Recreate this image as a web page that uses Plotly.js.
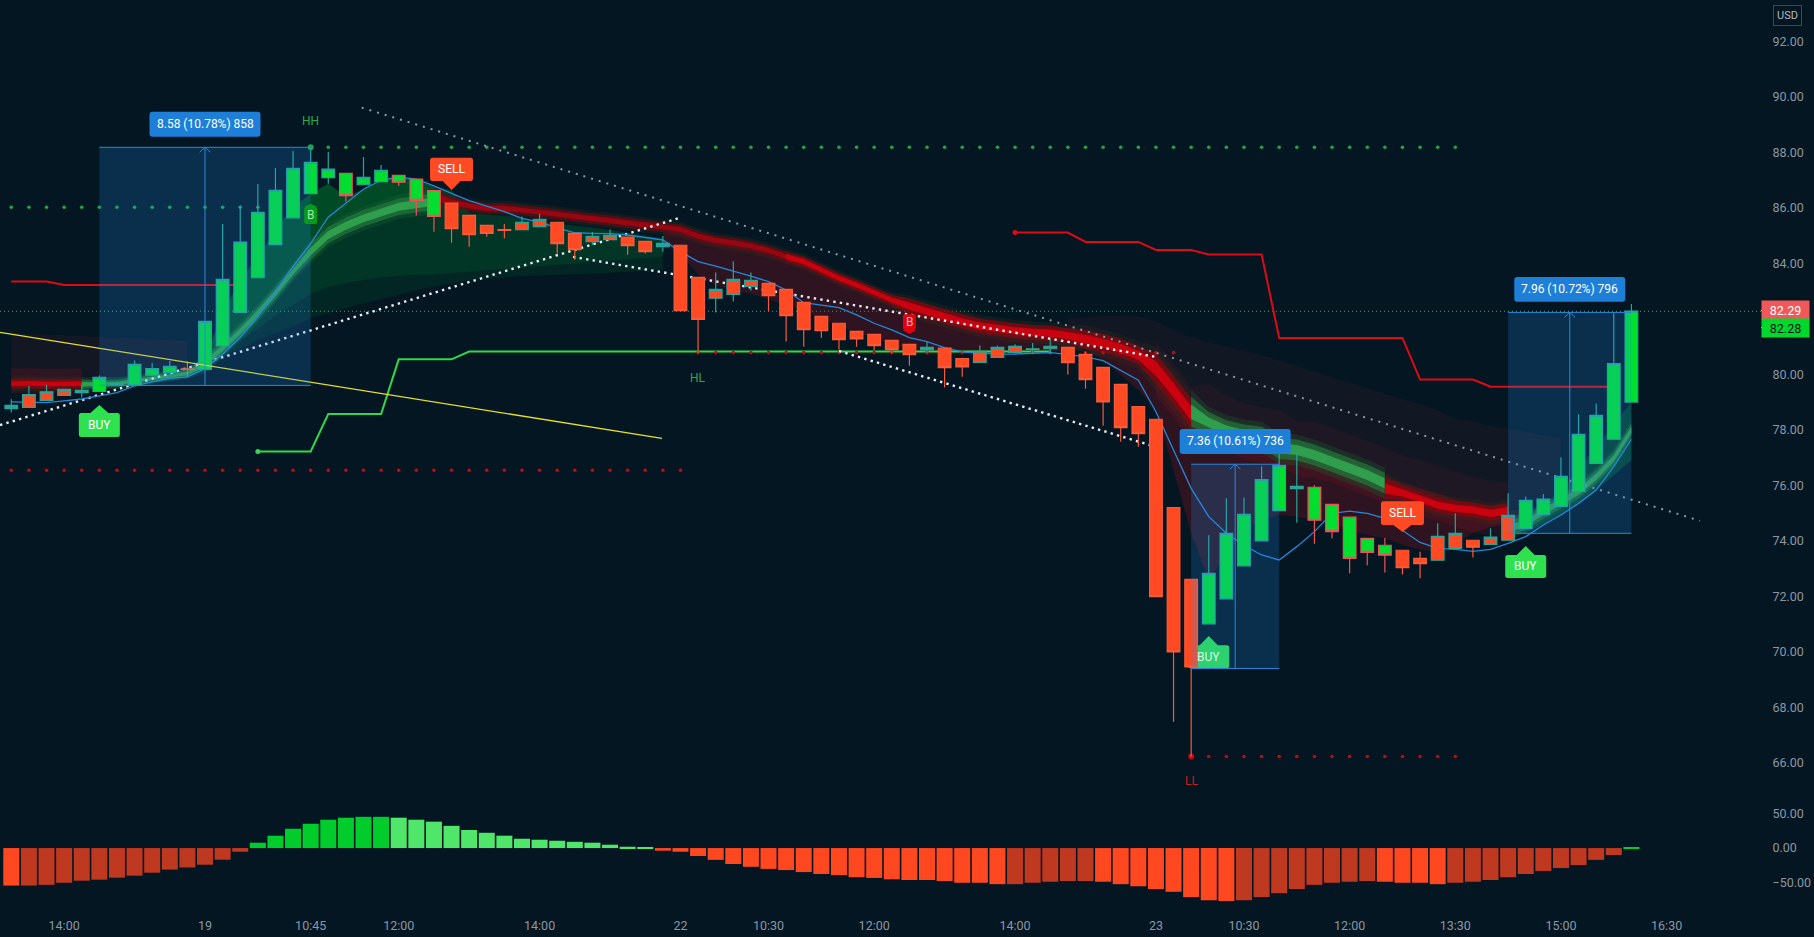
<!DOCTYPE html>
<html><head><meta charset="utf-8">
<script src="https://cdn.plot.ly/plotly-3.0.1.min.js"></script>
<style>html,body{margin:0;padding:0;background:#031622;overflow:hidden}</style>
</head><body><div id="chart" style="width:1814px;height:937px"></div>
<script>
// ---------- candles ----------
const open  = [78.76,78.81,79.06,79.24,79.34,79.38,79.62,79.61,79.97,80.07,80.20,80.18,81.03,82.23,83.48,84.67,85.64,86.51,87.09,87.24,86.83,86.94,87.17,87.03,86.62,86.17,85.73,85.37,85.21,85.21,85.32,85.48,85.08,84.78,84.85,84.94,84.79,84.60,84.65,83.49,82.74,82.88,83.17,83.28,83.06,82.59,82.09,81.84,81.55,81.44,81.22,81.08,80.89,80.94,80.57,80.43,80.61,80.79,80.90,80.92,80.97,80.72,80.25,79.64,78.84,78.38,75.20,72.61,71.01,71.91,73.10,74.00,75.09,75.88,75.93,75.31,74.85,74.09,73.84,73.66,73.37,73.30,73.73,74.02,73.87,74.02,74.44,74.94,75.24,75.78,76.79,77.66,79.00];
const high  = [79.10,79.58,79.62,79.46,79.62,79.96,79.75,80.50,80.41,80.48,80.47,81.91,85.42,86.08,86.86,87.43,88.05,88.18,88.01,87.24,87.83,87.54,87.17,87.03,86.62,86.17,85.73,85.37,85.42,85.69,85.78,85.48,85.08,85.13,85.22,84.94,84.79,84.98,84.65,83.49,83.67,84.07,83.67,83.28,83.06,82.59,82.09,81.84,81.55,81.44,81.22,81.08,81.16,80.94,80.60,81.04,81.04,81.08,81.13,81.26,80.97,80.80,80.25,79.64,78.84,78.38,75.20,72.61,74.20,75.53,75.56,76.68,77.15,77.19,76.00,75.31,74.85,74.09,74.10,73.66,73.61,74.63,74.99,74.02,74.45,75.71,75.60,75.69,77.01,78.56,78.95,82.23,82.53];
const low   = [78.62,78.81,79.06,79.24,79.16,79.38,79.62,79.61,79.97,80.07,79.93,80.18,81.03,82.23,83.48,84.67,85.64,86.51,86.87,86.22,86.83,86.94,86.79,85.72,85.14,84.74,84.60,84.96,84.89,85.21,85.32,84.35,84.13,84.67,84.85,84.31,84.35,84.42,82.29,80.76,82.23,82.62,83.01,82.28,81.18,80.99,81.32,80.89,80.99,80.88,80.76,80.31,80.76,79.52,79.91,80.43,80.61,80.79,80.75,80.75,79.99,79.48,78.15,77.57,77.39,71.99,67.48,66.22,71.01,71.91,73.10,74.00,75.09,74.65,73.89,74.08,72.83,73.12,72.86,72.79,72.65,73.30,73.73,73.40,73.87,74.02,74.44,74.94,75.24,75.78,76.79,77.66,79.00];
const close = [78.88,79.27,79.37,79.46,79.42,79.89,79.66,80.36,80.21,80.29,80.18,81.91,83.42,84.76,85.84,86.63,87.42,87.64,87.39,86.44,87.10,87.35,86.92,86.27,85.69,85.25,85.03,85.08,85.19,85.48,85.58,84.71,84.49,84.97,85.01,84.64,84.42,84.72,82.29,81.98,83.06,83.42,83.39,82.83,82.11,81.61,81.57,81.25,81.28,81.03,80.89,80.71,80.97,80.24,80.27,80.83,80.97,81.01,80.92,81.01,80.42,79.81,79.01,78.08,77.86,71.99,70.00,69.46,72.83,74.27,74.95,76.21,76.72,75.96,74.74,74.33,73.37,73.58,73.48,73.03,73.18,74.16,74.27,73.77,74.13,74.92,75.46,75.50,76.32,77.84,78.52,80.39,82.28];
const bodyState = "rrrrr" + "ggggg" + "r" + "gggggggggggggg" + "r".repeat(43) + "g".repeat(11) + "rrrrrrr" + "ggggggg";

// ---------- ribbon spines ----------
const ribbonRedA   = [79.66,79.67,79.65,79.65,79.66];
const ribbonGreenA = [79.64,79.65,79.67,79.76,79.85,79.94,80.03,80.40,80.94,81.54,82.20,82.92,83.70,84.42,85.02,85.35,85.62,85.83,86.04,86.14,86.22];
const ribbonRedB   = [86.40,86.22,86.07,85.98,85.98,85.92,85.84,85.77,85.68,85.61,85.54,85.46,85.38,85.32,85.22,84.98,84.82,84.74,84.62,84.46,84.24,84.06,83.76,83.46,83.22,82.95,82.68,82.46,82.26,82.08,81.90,81.74,81.66,81.57,81.51,81.48,81.39,81.26,81.12,80.94,80.69,80.21,79.43,78.59];
const ribbonGreenB = [78.65,78.26,77.97,77.81,77.73,77.33,77.27,77.09,76.85,76.61,76.37,76.07];
const ribbonRedC   = [75.89,75.73,75.50,75.29,75.17,75.11,74.99,75.09];
const ribbonGreenC = [74.45,74.63,75.05,75.41,75.77,76.31,76.97,77.99];
const ribbonHalf   = [.13,.13,.13,.13,.13,.1,.1,.1,.1,.1,.1,.18,.18,.18,.18,.18,.18,.22,.22,.22,.22,.22,.22,.22,.22,.14,.14,.14,.14,.14,.14,.14,.14,.14,.14,.14,.14,.14,.14,.14,.14,.14,.14,.14,.14,.14,.14,.14,.14,.14,.14,.2,.2,.2,.2,.2,.2,.2,.2,.2,.2,.25,.25,.25,.25,.4,.4,.4,.28,.28,.28,.28,.28,.28,.28,.28,.28,.28,.28,.2,.2,.2,.2,.2,.2,.2,.18,.18,.18,.18,.18,.18,.18];

// ---------- ribbon clouds ----------
const greenTopA  = [79.9,79.9,79.95,80.05,80.1,80.15,80.6,82.2,83.4,84.24,85.2,86.04,86.51,86.88,86.4,86.67,87.0,87.1,87.0,86.76,86.64,85.8,85.74,85.7,85.66,85.5,85.44,85.35,85.3,85.2,85.1,85.0,84.9];
const greenLowA  = [79.55,79.55,79.6,79.72,79.82,79.88,80.15,80.63,80.94,81.24,81.48,81.72,82.02,82.2,82.38,82.56,82.71,82.86,83.04,83.16,83.28,83.4,83.45,83.5,83.54,83.56,83.58,83.6,83.63,83.66,83.69,83.72,83.76];
const greenInnerA= [79.6,79.6,79.65,79.75,79.85,79.92,80.2,80.75,81.2,81.65,82.1,82.5,82.9,83.15,83.3,83.4,83.5,83.55,83.6,83.6,83.65,83.7,83.75,83.8,83.85,83.9,83.95,84,84.05,84.1,84.15,84.2,84.24];
const greenTopC  = [74.85,75.0,75.3,75.8,76.6,77.4,78.2,79.0];
const greenLowC  = [74.2,74.3,74.6,74.95,75.35,75.85,76.35,76.9];
const redLowB    = [84.7,84.3,83.6,83.2,83.0,82.9,82.7,82.5,82.3,82.0,81.75,81.5,81.3,81.05,80.85,80.7,80.7,80.72,80.75,80.78,80.8,80.8,80.8,80.85,80.9,80.5,79.97,79.43,78.7,76.55,74.27,72.6,73.5,74.39,74.75,74.93,74.87,74.75,74.63,74.39,74.21,74.09,73.85,73.67,73.61,73.9,74.27,74.5,74.63,74.75];
const redTopB    = [82.0,82.05,82.1,82.1,82.08,81.9,81.6,81.35,81.15,81.0,80.85,80.7,80.5,80.3,80.1,79.9,79.7,79.5,79.3,79.1,78.95,78.7,78.4,78.3,78.15,78.05,77.95,77.8,77.7];
const redTopA    = [81.5,81.47,81.44,81.41,81.38,81.35,81.32,81.29,81.26,81.23,81.2];

// ---------- lines ----------
const emaLine = [79.01,78.99,78.98,79.04,79.11,79.22,79.34,79.58,79.73,79.85,79.91,80.21,80.72,81.33,82.08,82.98,83.88,84.72,85.66,86.16,86.67,87.0,87.10,87.03,86.79,86.52,86.26,86.06,85.86,85.62,85.48,85.28,85.10,85.08,85.07,85.02,84.94,84.84,84.42,84.06,83.90,83.73,83.54,83.34,83.04,82.58,82.49,82.40,82.14,81.84,81.60,81.32,81.18,80.96,80.81,80.78,80.73,80.73,80.75,80.78,80.72,80.63,80.49,80.15,79.79,78.65,77.27,75.89,74.87,74.27,73.84,73.49,73.31,73.79,74.33,74.99,75.07,74.99,74.81,74.39,73.94,73.73,73.69,73.62,73.69,73.91,74.15,74.57,74.93,75.35,75.83,76.67,77.66];
const redStepA   = [83.34,83.34,83.34,83.22,83.22,83.22,83.22,83.22,83.22,83.22,83.22,83.22,83.22,83.22];
const redStepB   = [85.11,85.11,85.11,85.11,84.77,84.77,84.77,84.77,84.48,84.48,84.48,84.32,84.32,84.32,84.32,81.31,81.31,81.31,81.31,81.31,81.31,81.31,81.31,79.81,79.81,79.81,79.81,79.55,79.55,79.55,79.55,79.55,79.55,79.55,79.55];
const greenStep  = [77.22,77.22,77.22,77.22,78.57,78.57,78.57,78.57,80.54,80.54,80.54,80.54,80.82,80.82,80.82,80.82,80.82,80.82,80.82,80.82,80.82,80.82,80.82,80.82,80.82,80.82,80.82,80.82,80.82,80.82,80.82,80.82,80.82,80.82,80.82,80.82,80.82,80.82,80.82,80.82,80.82,80.82,80.82,80.82,80.82,80.82];
const trendRising  = {x:[-0.64,37.97], y:[78.17,85.64]};
const trendFalling = {x:[31.9,65.06],  y:[84.23,80.62]};
const trendLower   = {x:[47,64.66],    y:[80.84,77.45]};
const trendLong    = {x:[19.9,95.9],   y:[89.61,74.72]};
const trendYellow  = {x:[-0.64,36.95], y:[81.51,77.69]};

// ---------- dotted levels: [price, first index, last index, colour] ----------
const dottedLevels = [[86.02,0,14,'#1FA54A'],[88.18,17,82,'#1FA54A'],[76.54,0,38,'#C00A14'],[80.78,39,66,'#C00A14'],[66.23,67,82,'#C00A14']];

// ---------- histogram ----------
const histValues = [-54,-54,-53,-50,-47,-45.6,-42.7,-39.8,-35.5,-31,-28,-24,-16.8,-5.3,7.7,17.8,27.8,35,40.8,43.7,45,45,43.7,40.8,38,32,26,22,17.8,13.4,12,10.5,9,7.7,4.8,1.9,0.5,-3.8,-5.3,-11.5,-17,-23,-27,-30,-31.7,-34.6,-37.4,-39,-42,-43,-45,-46,-46,-47.5,-50,-50,-52,-52,-50,-48.5,-47.5,-47.5,-48.5,-52,-55,-59,-63,-70.5,-75,-76.3,-75,-70.5,-65,-59,-53,-50,-48.5,-47.5,-48.5,-50,-50,-52,-50,-48.5,-46,-42,-37.4,-33,-28.8,-24.5,-17,-10,1];
const histShade  = "b" + "d".repeat(13) + "g".repeat(8) + "l".repeat(15) + "b".repeat(20) + "d".repeat(5) + "b".repeat(8) + "d".repeat(8) + "b".repeat(4) + "d".repeat(10) + "g";

// ---------- axis labels ----------
const priceTicks = [92,90,88,86,84,80,78,76,74,72,70,68,66];
const oscTicks = [50,0,-50];
const oscTickText = ['50.00','0.00','\u221250.00'];
const timeIdx = [3,11,17,22,30,38,43,49,57,65,70,76,82,88,94];
const timeLabels = ['14:00','19','10:45','12:00','14:00','22','10:30','12:00','14:00','23','10:30','12:00','13:30','15:00','16:30'];

// ---------- measure boxes: [left, right, top, bottom, centre, label, label price] ----------
const measureBoxes = [[5,17,88.18,79.60,11,'8.58 (10.78%) 858',89.01],[67,72,76.76,69.40,69.5,'7.36 (10.61%) 736',77.58],[85,92,82.23,74.27,88.5,'7.96 (10.72%) 796',83.06]];

// ---------- signal tags: [index, body top, body bottom, tip, half width px, colour, text, text colour] ----------
const tags = [
 [5,78.61,77.74,78.89,20.5,'#2FE04F','BUY','#fff'],
 [86,73.49,72.66,73.81,20.5,'#2FE04F','BUY','#fff'],
 [25,87.8,86.97,86.64,21.5,'#FF4A24','SELL','#fff'],
 [79,75.43,74.57,74.32,21.5,'#FF4A24','SELL','#fff'],
 [17,86.03,85.42,86.15,6.5,'#079A1E','B','#9BE8AA'],
 [51,82.16,81.6,81.45,6.5,'#E00010','B','#FFB4B4']];
const buyUnderCandle = [68,70.24,69.41,70.57,20.5,'#2FE04F','BUY','#fff'];

// ---------- helpers (layout only) ----------
const PXX = 17.61, PXY = 27.75;
const idx = (from, n) => Array.from({length:n}, (_, k) => from + k);
function band(from, upper, lower, color){
  const xs = idx(from, upper.length);
  return {type:'scatter', mode:'lines', x:xs.concat(xs.slice().reverse()), y:upper.concat(lower.slice().reverse()),
    fill:'toself', fillcolor:color, line:{width:0}, hoverinfo:'skip', xaxis:'x', yaxis:'y'};
}
function ribbon(from, center, colors){
  const out = [];
  const mult = [2.0,1.35,0.65];
  colors.forEach((c,k)=>{
    out.push(band(from, center.map((v,j)=>v+ribbonHalf[from+j]*mult[k]), center.map((v,j)=>v-ribbonHalf[from+j]*mult[k]), c));
  });
  return out;
}
function line(x,y,color,width,dash,extra){
  return Object.assign({type:'scatter',mode:'lines',x,y,line:{color,width,dash:dash||'solid'},hoverinfo:'skip',xaxis:'x',yaxis:'y'},extra||{});
}
function tagPath(xc, top, bot, tip, halfPx, tipHalfPx, rPx){
  const hw = halfPx/PXX, r = rPx/PXX, ry = rPx/PXY, th = tipHalfPx/PXX;
  const l = xc-hw, R = xc+hw;
  let p = `M ${l+r} ${top} `;
  if(tip!==null && tip>top) p += `L ${xc-th} ${top} L ${xc} ${tip} L ${xc+th} ${top} `;
  p += `L ${R-r} ${top} Q ${R} ${top} ${R} ${top-ry} L ${R} ${bot+ry} Q ${R} ${bot} ${R-r} ${bot} `;
  if(tip!==null && tip<bot) p += `L ${xc+th} ${bot} L ${xc} ${tip} L ${xc-th} ${bot} `;
  p += `L ${l+r} ${bot} Q ${l} ${bot} ${l} ${bot+ry} L ${l} ${top-ry} Q ${l} ${top} ${l+r} ${top} Z`;
  return p;
}

// ---------- traces ----------
const traces = [];
const redPal     = ['rgba(60,60,25,0.22)','rgba(130,8,18,0.8)','rgba(215,0,14,0.88)'];
const redPalDim  = ['rgba(60,60,25,0.2)','rgba(105,10,20,0.7)','rgba(165,5,16,0.85)'];
const greenPal = ['rgba(30,100,50,0.3)','rgba(35,120,60,0.7)','rgba(48,165,80,0.9)'];
const spine = ribbonRedB.concat(ribbonGreenB, ribbonRedC);          // from index 24 to 85
const spineFrom = 24;
// faint clouds
traces.push(band(0, redTopA, ribbonRedA.concat(Array(6).fill(79.9)), 'rgba(170,25,50,0.10)'));
traces.push(band(0, ribbonRedA.map(v=>v+0.55), ribbonRedA.map(v=>v-0.35), 'rgba(170,20,40,0.18)'));
traces.push(band(60, redTopB, spine.slice(60-spineFrom,86-spineFrom).concat([75.3,75.5,75.7]), 'rgba(170,30,60,0.09)'));
traces.push(band(65, spine.slice(65-spineFrom,86-spineFrom).map(v=>v+1.0), spine.slice(65-spineFrom,86-spineFrom), 'rgba(170,30,50,0.09)'));
traces.push(band(37, spine.slice(37-spineFrom,86-spineFrom).concat([75.09]).slice(0,50), redLowB, 'rgba(170,14,28,0.26)'));
traces.push(band(65, spine.slice(65-spineFrom,86-spineFrom), spine.slice(65-spineFrom,86-spineFrom).map(v=>v-1.0), 'rgba(170,14,28,0.16)'));
// green fills
traces.push(band(5, greenTopA, greenLowA, 'rgba(0,140,50,0.14)'));
traces.push(band(5, greenTopA, greenInnerA, 'rgba(0,140,50,0.16)'));
traces.push(band(11, greenTopA.slice(6,20), ribbonGreenA.slice(7,21), 'rgba(0,150,40,0.22)'));
traces.push(band(85, greenTopC, greenLowC, 'rgba(0,150,60,0.3)'));
// ribbons
ribbon(0, ribbonRedA, redPal).forEach(t=>traces.push(t));
ribbon(4, ribbonGreenA, greenPal).forEach(t=>traces.push(t));
ribbon(24, ribbonRedB.slice(0,21), redPalDim).forEach(t=>traces.push(t));
ribbon(44, ribbonRedB.slice(20), redPal).forEach(t=>traces.push(t));
ribbon(67, ribbonGreenB, greenPal).forEach(t=>traces.push(t));
ribbon(78, ribbonRedC, redPal).forEach(t=>traces.push(t));
ribbon(85, ribbonGreenC, greenPal).forEach(t=>traces.push(t));
// steps
traces.push(line(idx(0,redStepA.length), redStepA, '#E00A14', 2));
traces.push(line(idx(57,redStepB.length), redStepB, '#E00A14', 2));
traces.push(line(idx(14,greenStep.length), greenStep, '#2FD94A', 2));
traces.push(line([14],[77.22],'#2FD94A',2,'solid',{mode:'markers',marker:{color:'#2FD94A',size:5}}));
traces.push(line([57],[85.11],'#E00A14',2,'solid',{mode:'markers',marker:{color:'#E00A14',size:5}}));
// dotted levels
dottedLevels.forEach(d=>{
  const xs = idx(d[1], d[2]-d[1]+1);
  traces.push({type:'scatter',mode:'markers',x:xs,y:xs.map(()=>d[0]),marker:{color:d[3],size:3.6},hoverinfo:'skip',xaxis:'x',yaxis:'y'});
});
traces.push(line([17],[88.18],'#1FA54A',1,'solid',{mode:'markers',marker:{color:'#1FA54A',size:6}}));
traces.push(line([67],[66.23],'#C00A14',1,'solid',{mode:'markers',marker:{color:'#C00A14',size:6}}));
// trend lines
traces.push(line(trendLong.x, trendLong.y, '#8C98A4', 2, '2px,6px'));
traces.push(line(trendRising.x, trendRising.y, '#E8EEF2', 2.4, '2.4px,4.2px'));
traces.push(line(trendFalling.x, trendFalling.y, '#E8EEF2', 2.4, '2.4px,4.2px'));
traces.push(line(trendLower.x, trendLower.y, '#E8EEF2', 2.4, '2.4px,4.2px'));
// ema
traces.push(line(idx(0,emaLine.length), emaLine, '#2488D8', 1.3));
// histogram
const shadeColor = {b:'#FF4820', d:'#BF3820', g:'#00CC2C', l:'#50E66A'};
traces.push({type:'bar',x:idx(0,histValues.length),y:histValues,marker:{color:histValues.map((_,i)=>shadeColor[histShade[i]]),line:{width:0}},xaxis:'x',yaxis:'y2',hoverinfo:'skip'});
// candles, one trace per fill + direction
const FILL = {r:'#FF4A24', g:'#00DE30'}, TEAL='#26A69A', CRED='#F0505A';
['r','g'].forEach(f=>[true,false].forEach(up=>{
  const ids = open.map((_,i)=>i).filter(i=>bodyState[i]===f && (close[i]>=open[i])===up);
  if(!ids.length) return;
  const border = up?TEAL:(f==='r'?'#F85A3A':CRED);
  const sty = {line:{color:border,width:1.2},fillcolor:FILL[f]};
  traces.push({type:'candlestick',x:ids,open:ids.map(i=>open[i]),high:ids.map(i=>high[i]),low:ids.map(i=>low[i]),close:ids.map(i=>close[i]),
    increasing:sty,decreasing:sty,whiskerwidth:0,xaxis:'x',yaxis:'y3',hoverinfo:'skip'});
}));

// ---------- shapes & annotations ----------
const BLUE = '#2A88DC';
const shapes = [];
const anns = [];
const F = 'Roboto, sans-serif';
shapes.push({type:'line',xref:'paper',yref:'y',x0:0,x1:1,y0:82.27,y1:82.27,line:{color:'rgba(50,225,95,0.8)',width:1,dash:'1px,3px'},layer:'below'});
shapes.push({type:'path',xref:'x',yref:'y',path:tagPath(buyUnderCandle[0],buyUnderCandle[1],buyUnderCandle[2],buyUnderCandle[3],buyUnderCandle[4],9,2.5),fillcolor:buyUnderCandle[5],line:{width:0},layer:'below'});
anns.push({x:buyUnderCandle[0],y:(buyUnderCandle[1]+buyUnderCandle[2])/2,xref:'x',yref:'y',text:'BUY',showarrow:false,font:{family:F,size:12,color:'#DDF5E4'}});
shapes.push({type:'line',xref:'x',yref:'y',x0:trendYellow.x[0],x1:trendYellow.x[1],y0:trendYellow.y[0],y1:trendYellow.y[1],line:{color:'#E6DE2E',width:1.3},layer:'above'});
measureBoxes.forEach(b=>{
  shapes.push({type:'rect',xref:'x',yref:'y',x0:b[0],x1:b[1],y0:b[3],y1:b[2],fillcolor:'rgba(33,150,243,0.2)',line:{width:0},layer:'above'});
  shapes.push({type:'line',xref:'x',yref:'y',x0:b[0],x1:b[1],y0:b[2],y1:b[2],line:{color:BLUE,width:1},layer:'above'});
  shapes.push({type:'line',xref:'x',yref:'y',x0:b[0],x1:b[1],y0:b[3],y1:b[3],line:{color:BLUE,width:1},layer:'above'});
  shapes.push({type:'line',xref:'x',yref:'y',x0:b[4],x1:b[4],y0:b[3],y1:b[2],line:{color:BLUE,width:1},layer:'above'});
  shapes.push({type:'path',xref:'x',yref:'y',path:`M ${b[4]-0.3} ${b[2]-0.18} L ${b[4]} ${b[2]} L ${b[4]+0.3} ${b[2]-0.18}`,line:{color:BLUE,width:1},layer:'above'});
  shapes.push({type:'path',xref:'x',yref:'y',path:tagPath(b[4],b[6]+0.45,b[6]-0.45,null,55.5,0,3),fillcolor:'#1E7FD8',line:{width:0},layer:'above'});
  anns.push({x:b[4],y:b[6],xref:'x',yref:'y',text:b[5],showarrow:false,font:{family:F,size:12,color:'#fff'}});
});
tags.forEach(t=>{
  shapes.push({type:'path',xref:'x',yref:'y',path:tagPath(t[0],t[1],t[2],t[3],t[4],t[4]>10?9:t[4],t[4]>10?2.5:2),fillcolor:t[5],line:{width:0},layer:'above'});
  anns.push({x:t[0],y:(t[1]+t[2])/2,xref:'x',yref:'y',text:t[6],showarrow:false,font:{family:F,size:12,color:t[7]}});
});
[['HH',17,89.14,'#2BA84A'],['HL',39,79.88,'#2BA84A'],['LL',67,65.35,'#C81E1E']].forEach(s=>{
  anns.push({x:s[1],y:s[2],xref:'x',yref:'y',text:s[0],showarrow:false,font:{family:F,size:12,color:s[3]}});
});
[[82.32,'82.29','#F0585A','#fff'],[81.67,'82.28','#00D92C','#04121c']].forEach(l=>{
  anns.push({xref:'paper',x:1,xanchor:'left',yref:'y',y:l[0],yanchor:'middle',text:l[1],showarrow:false,width:47,height:18,bgcolor:l[2],borderpad:0,font:{family:F,size:12.5,color:l[3]}});
});
[82.3,81.68].forEach(v=>{
  shapes.push({type:'line',xref:'paper',yref:'y',x0:1,x1:1.0023,y0:v,y1:v,line:{color:'#ffffff',width:1},layer:'above'});
});
anns.push({xref:'paper',yref:'paper',x:1787/1761,y:(905-15.5)/905,xanchor:'center',yanchor:'middle',text:'USD',showarrow:false,bordercolor:'#3C4752',borderwidth:1,borderpad:3,font:{family:F,size:11,color:'#B2B8C2'}});

const TICK = {family:F,size:12.5,color:'#8C96A2'};
const layout = {
  width:1814,height:937,margin:{l:0,r:53,t:0,b:32,pad:0},
  paper_bgcolor:'#031622',plot_bgcolor:'#031622',showlegend:false,dragmode:false,hovermode:false,
  boxmode:'overlay',boxgap:0.28,boxgroupgap:0,bargap:0.09,
  xaxis:{range:[-0.6417,99.36],anchor:'y2',tickmode:'array',tickvals:timeIdx,ticktext:timeLabels,showgrid:false,zeroline:false,showline:false,ticks:'',
    tickfont:TICK,rangeslider:{visible:false},fixedrange:true,ticklabelstandoff:11},
  yaxis:{domain:[0.1105,1],range:[64.48,93.488],side:'right',anchor:'x',tickmode:'array',tickvals:priceTicks,ticktext:priceTicks.map(v=>v.toFixed(2)),showgrid:false,zeroline:false,showline:false,
    ticks:'outside',ticklen:8,tickcolor:'rgba(0,0,0,0)',tickfont:TICK,fixedrange:true},
  yaxis2:{domain:[0,0.1105],range:[-82,62],side:'right',anchor:'x',tickmode:'array',tickvals:oscTicks,ticktext:oscTickText,showgrid:false,zeroline:false,showline:false,
    ticks:'outside',ticklen:8,tickcolor:'rgba(0,0,0,0)',tickfont:TICK,fixedrange:true},
  yaxis3:{overlaying:'y',range:[64.48,93.488],side:'right',anchor:'x',visible:false,showgrid:false,zeroline:false,fixedrange:true},
  shapes:shapes,annotations:anns
};
Plotly.newPlot('chart',traces,layout,{displayModeBar:false,responsive:false});
</script></body></html>
